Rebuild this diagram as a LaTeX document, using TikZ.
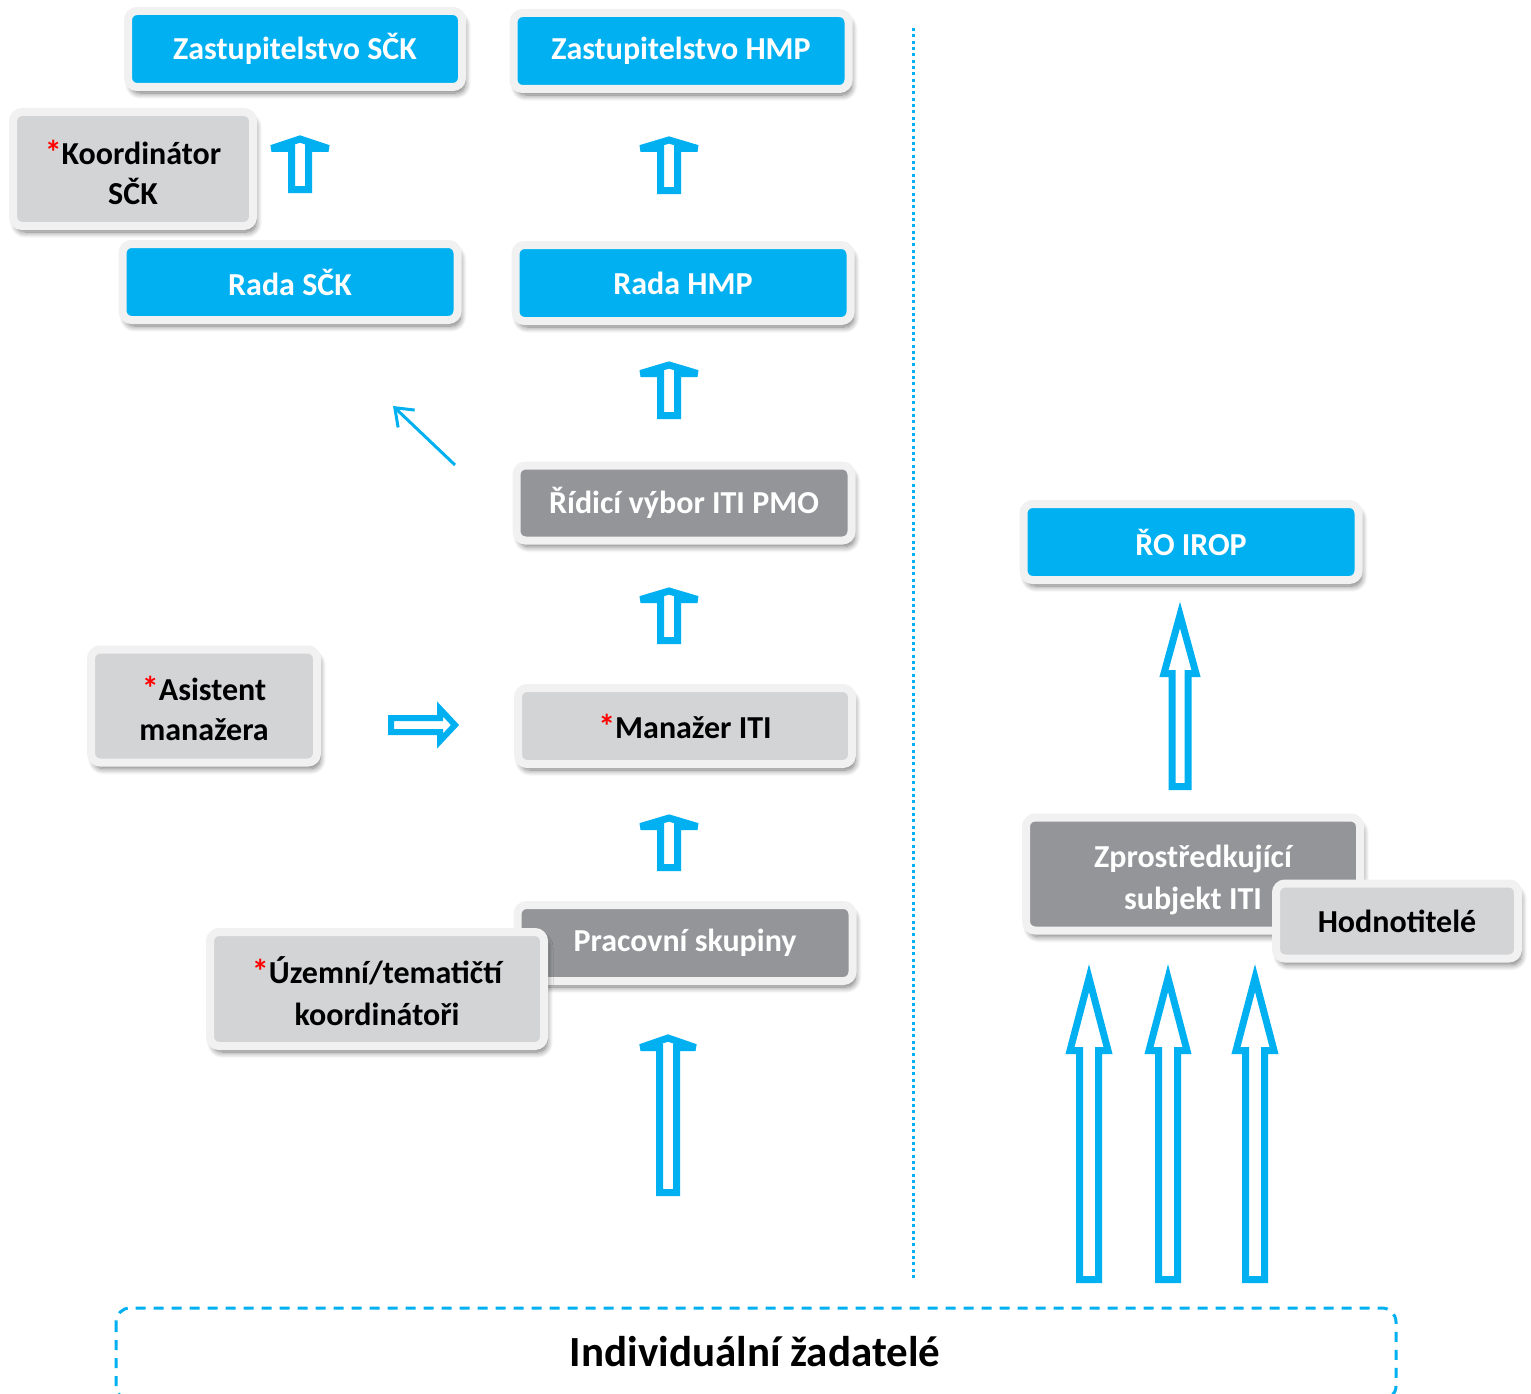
\documentclass[tikz,border=0pt]{standalone}
\usepackage{fontspec}
\setmainfont{Carlito}
\usetikzlibrary{arrows.meta,shadows.blur}
\definecolor{iblue}{HTML}{00B0F0}
\definecolor{dgray}{HTML}{949599}
\definecolor{lgray}{HTML}{D3D4D6}
\definecolor{bordc}{HTML}{F1F1F2}
\newcommand{\rast}{{\color{red}\fontsize{34}{34}\selectfont *}}
\newcommand{\uparrowshape}[7][]{%
  \draw[barrow,#1] (#2-#7,#5) -- (#2-#7,#4) -- (#2-#6,#4) -- (#2,#3) -- (#2+#6,#4) -- (#2+#7,#4) -- (#2+#7,#5) -- cycle;}
\begin{document}
\begin{tikzpicture}[x=1pt,y=-1pt,
  box/.style={rounded corners=9pt, draw=bordc, line width=8pt, inner sep=0pt, align=center,
    font=\bfseries\fontsize{32}{40}\selectfont,
    blur shadow={shadow xshift=3pt, shadow yshift=-6pt, shadow blur radius=6pt, shadow opacity=55, shadow blur steps=10}},
  bluebox/.style={box, fill=iblue, text=white},
  darkbox/.style={box, fill=dgray, text=white},
  lightbox/.style={box, fill=lgray, text=black},
  boxtext/.style={align=center, inner sep=0pt, font=\bfseries\fontsize{32}{40}\selectfont},
  barrow/.style={draw=iblue, line width=7pt, fill=white, line join=miter, miter limit=3},
  thinarrow/.style={draw=iblue, line width=3pt, -{Straight Barb[length=16pt,width=24pt,line width=3pt]}},
  dotline/.style={draw=iblue, line width=3pt, dash pattern=on 3pt off 3.33pt},
  dashbox/.style={draw=iblue, line width=3pt, dash pattern=on 10pt off 8pt, rounded corners=14pt}
]
\useasboundingbox (0,0) rectangle (1531,1394);

% separator and bottom frame
\coordinate (dtop) at (913,28);
\coordinate (dbot) at (913,1278);
\draw[dotline] (dtop) -- (dbot);
\draw[dashbox] (116,1308) rectangle (1396,1400);
\node[font=\bfseries\fontsize{43}{50}\selectfont] (ind) at (755,1352) {Individuální žadatelé};

% left column
\node[bluebox, minimum width=334pt, minimum height=76pt] (zsck) at (295,49) {Zastupitelstvo SČK};
\node[lightbox, minimum width=240pt, minimum height=114pt] (ksck) at (133,169) {};
\node[boxtext] (ksckt) at (133,172) {\rast Koordinátor\\SČK};
\node[bluebox, minimum width=335pt, minimum height=76pt] (rsck) at (290,282) {Rada SČK};
\node[lightbox, minimum width=226pt, minimum height=113pt] (asist) at (204,706) {};
\node[boxtext] (asistt) at (204,708) {\rast Asistent\\manažera};

% middle column
\node[bluebox, minimum width=335pt, minimum height=76pt] (zhmp) at (681,51) {Zastupitelstvo HMP};
\node[bluebox, minimum width=335pt, minimum height=76pt] (rhmp) at (683,283) {Rada HMP};
\node[darkbox, minimum width=335pt, minimum height=75pt] (rv) at (684,503) {Řídicí výbor ITI PMO};
\node[lightbox, minimum width=334pt, minimum height=76pt] (mgr) at (685,726) {\rast Manažer ITI};
\node[darkbox, minimum width=335pt, minimum height=76pt] (prac) at (685,943) {Pracovní skupiny};
\node[lightbox, minimum width=334pt, minimum height=114pt] (uzem) at (377,989) {};
\node[boxtext, font=\bfseries\fontsize{32}{42}\selectfont] (uzemt) at (377,991) {\rast Územní/tematičtí\\koordinátoři};

% right column
\node[bluebox, minimum width=335pt, minimum height=76pt] (irop) at (1191,542) {ŘO IROP};
\node[darkbox, minimum width=334pt, minimum height=113pt] (zs) at (1193,874) {};
\node[boxtext, text=white, font=\bfseries\fontsize{32}{42}\selectfont] (zst) at (1193,880) {Zprostředkující\\subjekt ITI};
\node[lightbox, minimum width=242pt, minimum height=75pt] (hodn) at (1397,921) {Hodnotitelé};

% small block arrows
\uparrowshape{300}{139}{148.5}{189.5}{28.5}{8.5}
\uparrowshape{669}{140}{148.5}{190.5}{28.5}{8.5}
\uparrowshape{669}{365}{373.5}{415.5}{28.5}{8.5}
\uparrowshape{669}{591}{599.5}{640.5}{28.5}{8.5}
\uparrowshape{669}{818}{826.5}{867.5}{28.5}{8.5}
\uparrowshape{668}{1038}{1047.5}{1192.5}{27.5}{8.5}

% tall block arrows
\uparrowshape[miter limit=10]{1180}{615}{673.5}{786.5}{16}{8}
\uparrowshape[miter limit=10]{1089}{978}{1050.5}{1279.5}{19}{9.5}
\uparrowshape[miter limit=10]{1168}{978}{1050.5}{1279.5}{19}{9.5}
\uparrowshape[miter limit=10]{1255}{978}{1050.5}{1279.5}{19}{9.5}

% right block arrow
\draw[barrow, line width=6pt, miter limit=10] (391,718) -- (440,718) -- (440,709) -- (455,725) -- (440,741) -- (440,732) -- (391,732) -- cycle;

% diagonal arrow
\coordinate (d1) at (455,465);
\coordinate (d2) at (393,406);
\draw[thinarrow] (d1) -- (d2);
\end{tikzpicture}
\end{document}
